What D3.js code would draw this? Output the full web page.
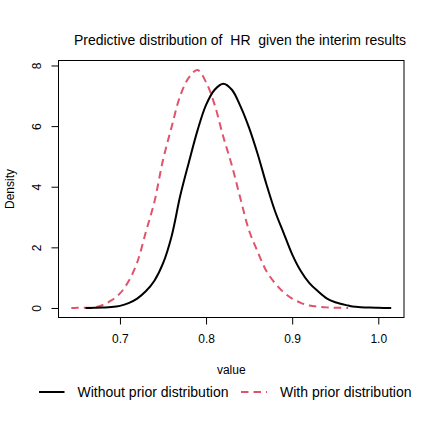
<!DOCTYPE html>
<html>
<head>
<meta charset="utf-8">
<script src="https://cdn.jsdelivr.net/npm/d3@7"></script>
<style>
  body { margin: 0; background: #fff; }
  text { font-family: "Liberation Sans", Arial, sans-serif; fill: #000; }
</style>
</head>
<body>
<div id="chart"></div>
<script>
// values
const hrValues = [0.6435, 0.65, 0.66, 0.67, 0.68, 0.69, 0.70, 0.71, 0.72, 0.73, 0.74, 0.75, 0.76, 0.77, 0.78, 0.79,
  0.80, 0.81, 0.82, 0.83, 0.84, 0.85, 0.86, 0.87, 0.88, 0.89, 0.90, 0.91, 0.92, 0.93, 0.94, 0.95, 0.965, 0.97,
  0.98, 0.99, 1.00, 1.015];

// density without prior (starts at 0.66)
const withoutPrior = [null, null, 0, 0.005, 0.015, 0.03, 0.07, 0.16, 0.31, 0.55, 0.9, 1.47, 2.37, 3.7, 4.8, 5.85,
  6.7, 7.2, 7.4, 7.2, 6.65, 5.94, 5.07, 4.09, 3.2, 2.48, 1.77, 1.22, 0.82, 0.55, 0.32, 0.19, 0.08, 0.05,
  0.025, 0.012, 0.006, 0];

// density with prior (ends at 0.965)
const withPrior = [0, 0.005, 0.01, 0.02, 0.1, 0.25, 0.48, 0.88, 1.5, 2.5, 3.5, 4.88, 5.97, 7.0, 7.6, 7.85,
  7.45, 6.7, 5.65, 4.7, 3.6, 2.55, 1.85, 1.22, 0.82, 0.52, 0.31, 0.17, 0.08, 0.04, 0.02, 0.01, 0, null,
  null, null, null, null];

const seriesNames = ["Without prior distribution", "With prior distribution"];
const xTicks = [0.7, 0.8, 0.9, 1.0];
const yTicks = [0, 2, 4, 6, 8];

let margin = { top: 60.5, left: 58.5, right: 32, bottom: 118.5 },
  width = 436 - margin.left - margin.right,
  height = 436 - margin.top - margin.bottom;

let svg = d3.select("#chart")
  .append("svg")
    .attr("width", 436)
    .attr("height", 436);

let g = svg.append("g")
    .attr("transform", "translate(" + margin.left + "," + margin.top + ")");

// R style axis extension of 4%
const xExt = d3.extent(hrValues);
const xPad = (xExt[1] - xExt[0]) * 0.04;
const yMax = d3.max(withoutPrior.concat(withPrior));

let xScale = d3.scaleLinear()
  .domain([xExt[0] - xPad, xExt[1] + xPad])
  .range([0, width]);

let yScale = d3.scaleLinear()
  .domain([-yMax * 0.04, yMax * 1.04])
  .range([height, 0]);

// X axis
let xAxis = g.append("g")
    .attr("transform", "translate(0," + height + ")")
    .call(d3.axisBottom(xScale).tickValues(xTicks).tickSize(7).tickPadding(10)
      .tickFormat(d3.format(".1f")));
xAxis.select(".domain").remove();
xAxis.selectAll("text")
    .style("font-size", "12px")
    .style("font-family", "Liberation Sans, Arial, sans-serif");

// Y axis, labels turned like R's las = 0
let yAxis = g.append("g")
    .call(d3.axisLeft(yScale).tickValues(yTicks).tickSize(7).tickPadding(0));
yAxis.select(".domain").remove();
yAxis.selectAll("text")
    .attr("transform", "rotate(-90)")
    .attr("x", 0)
    .attr("y", -18)
    .attr("dy", 0)
    .style("text-anchor", "middle")
    .style("font-size", "12px")
    .style("font-family", "Liberation Sans, Arial, sans-serif");

// plot box
g.append("rect")
    .attr("width", width)
    .attr("height", height)
    .attr("fill", "none")
    .attr("stroke", "#000")
    .attr("stroke-width", 1);

const line = d3.line()
  .defined(d => d[1] !== null)
  .x(d => xScale(d[0]))
  .y(d => yScale(d[1]))
  .curve(d3.curveCatmullRom.alpha(0.5));

g.append("path")
    .datum(d3.zip(hrValues, withPrior))
    .attr("fill", "none")
    .attr("stroke", "#DF536B")
    .attr("stroke-width", 2)
    .attr("stroke-dasharray", "7.5,5")
    .attr("d", line);

g.append("path")
    .datum(d3.zip(hrValues, withoutPrior))
    .attr("fill", "none")
    .attr("stroke", "#000")
    .attr("stroke-width", 2)
    .attr("d", line);

// titles
svg.append("text")
    .attr("x", 240)
    .attr("y", 44.5)
    .attr("text-anchor", "middle")
    .style("font-size", "14px")
    .style("white-space", "pre")
    .text("Predictive distribution of  HR  given the interim results");

svg.append("text")
    .attr("x", margin.left + width / 2)
    .attr("y", 374)
    .attr("text-anchor", "middle")
    .style("font-size", "12px")
    .text("value");

svg.append("text")
    .attr("transform", "translate(14," + (margin.top + height / 2) + ") rotate(-90)")
    .attr("text-anchor", "middle")
    .style("font-size", "12px")
    .text("Density");

// legend
const legendY = 392;
const legend = [
  { name: seriesNames[0], x1: 39, x2: 64.5, tx: 77.5, color: "#000", dash: null },
  { name: seriesNames[1], x1: 241, x2: 267, tx: 280, color: "#DF536B", dash: "7.5,5" }
];
legend.forEach(d => {
  svg.append("line")
      .attr("x1", d.x1).attr("x2", d.x2)
      .attr("y1", legendY).attr("y2", legendY)
      .attr("stroke", d.color)
      .attr("stroke-width", 2)
      .attr("stroke-dasharray", d.dash);
  svg.append("text")
      .attr("x", d.tx)
      .attr("y", legendY + 5)
      .style("font-size", "14px")
      .text(d.name);
});
</script>
</body>
</html>
